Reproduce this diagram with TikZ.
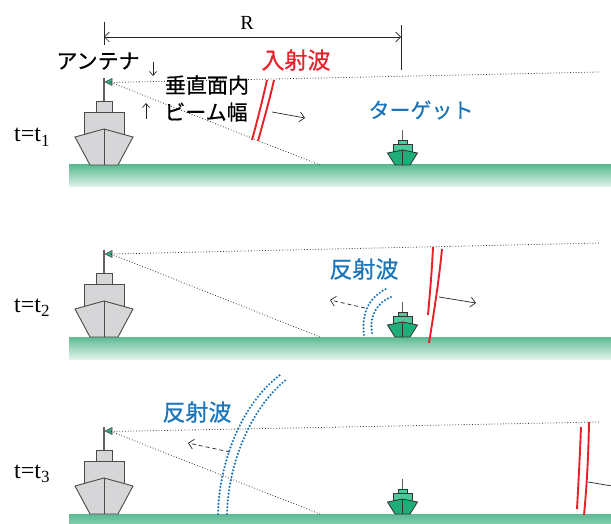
\documentclass[tikz,border=0pt]{standalone}
\usepackage{fontspec}
\setmainfont{Liberation Serif}
\newfontfamily\jpfont[FakeBold=0.6]{Noto Sans CJK JP}
\usetikzlibrary{arrows.meta}

\definecolor{wavered}{HTML}{E8202A}
\definecolor{echoblue}{HTML}{1B75BB}
\definecolor{seatop}{HTML}{5CBB93}
\definecolor{seabot}{HTML}{E2F3EB}
\definecolor{hullgray}{HTML}{D6D6D8}
\definecolor{edgegray}{HTML}{4A4A4A}
\definecolor{tgttop}{HTML}{4CC89A}
\definecolor{tgtbot}{HTML}{1FAE7A}
\definecolor{flaggreen}{HTML}{2EA77A}

\newcommand\tsub[1]{\raisebox{-4.5pt}{\fontsize{17}{17}\selectfont #1}}

\tikzset{
  shipline/.style={draw=edgegray, line width=0.9pt},
  bigship/.pic={
    \draw[gray!75!black, line width=1.3pt] (0,-53) -- (0,-87);
    \filldraw[fill=flaggreen, draw=black!70, line width=0.5pt]
      (1,-83) -- (8,-86.5) -- (8,-79.5) -- cycle;
    \filldraw[fill=hullgray, shipline] (-8,-64) rectangle (8,-53);
    \filldraw[fill=hullgray, shipline] (-20,-53) rectangle (20,-30);
    \filldraw[fill=hullgray, shipline]
      (-14,0) -- (-29,-28) -- (0,-36) -- (29,-28) -- (14,0) -- cycle;
    \draw[shipline] (0,-36) -- (0,0);
  },
  smallship/.pic={
    \draw[gray!75!black, line width=1.1pt] (0,-35) -- (0,-25);
    \filldraw[fill=tgttop, draw=black!80, line width=0.8pt] (-4.5,-25) rectangle (4.5,-21);
    \filldraw[fill=tgttop, draw=black!80, line width=0.8pt] (-9.5,-21) rectangle (9.5,-11);
    \filldraw[fill=tgtbot, draw=black!80, line width=0.8pt]
      (-7.5,0) -- (-15,-12) -- (0,-15) -- (15,-12) -- (7.5,0) -- cycle;
    \draw[black!80, line width=0.8pt] (0,-15) -- (0,0);
  },
  beam/.style={dotted, line width=0.8pt, black!80},
  wave/.style={wavered, line width=1.9pt},
  echo/.style={echoblue, line width=2.4pt, line cap=round, dash pattern=on 0pt off 3.4pt},
  prop/.style={-{Straight Barb[length=5pt,width=10pt]}, line width=0.7pt, black!85},
  back/.style={prop, dash pattern=on 4pt off 3pt},
  tick/.style={line width=0.7pt, black!85},
  jp/.style={font=\jpfont\fontsize{21}{24}\selectfont, inner sep=0pt},
  jpbig/.style={font=\jpfont\fontsize{23}{26}\selectfont, inner sep=0pt},
  tlabel/.style={font=\fontsize{24}{24}\selectfont, inner sep=0pt, anchor=base west},
}

\begin{document}
\begin{tikzpicture}[x=1pt, y=-1pt]
\useasboundingbox (0,0) rectangle (611,524);

% sea surfaces
\shade[top color=seatop, bottom color=seabot] (69,165) rectangle (611,187);
\shade[top color=seatop, bottom color=seabot] (69,337) rectangle (611,359);
\shade[top color=seatop, bottom color=seatop!70!seabot] (69,514) rectangle (611,524);

% ---------- t = t1 ----------
\pic at (104,165) {bigship};
\pic at (402.5,165) {smallship};
\coordinate (ant1) at (111,82.5);
\coordinate (far1) at (600,72);
\coordinate (gnd1) at (320,165);
\draw[beam] (ant1) -- (far1);
\draw[beam] (ant1) -- (gnd1);

% range R
\coordinate (rL) at (104,37);
\coordinate (rR) at (401,37);
\draw[tick] (104,22) -- (104,45);
\draw[tick] (401,25) -- (401,70);
\draw[prop, {Straight Barb[length=5pt,width=10pt]}-{Straight Barb[length=5pt,width=10pt]}] (rL) -- (rR);
\node[font=\fontsize{20}{20}\selectfont, inner sep=0pt] (Rlabel) at (247,23) {R};

% vertical beam width
\coordinate (bwA0) at (153,62);
\coordinate (bwA1) at (153,76);
\coordinate (bwB0) at (146,119);
\coordinate (bwB1) at (146,103);
\draw[prop, -{Straight Barb[length=4pt,width=7pt]}] (bwA0) -- (bwA1);
\draw[prop, -{Straight Barb[length=4pt,width=7pt]}] (bwB0) -- (bwB1);

\node[jp] (antlabel) at (98,61) {アンテナ};
\node[jp] (bw1) at (207,85) {垂直面内};
\node[jp] (bw2) at (206,112) {ビーム幅};
\node[jpbig, text=wavered] (inc) at (296,60) {入射波};
\node[jp, text=echoblue] (tgt) at (421,110) {ターゲット};
\node[tlabel] (t1) at (14,142) {t=t\tsub{1}};

% outgoing pulse
\draw[wave] (252,140) .. controls (257.5,120) and (262.5,100) .. (267,80);
\draw[wave] (258,141) .. controls (263.5,121) and (269.5,100) .. (274,80);
\coordinate (p1s) at (272,112);
\coordinate (p1e) at (305,118);
\draw[prop] (p1s) -- (p1e);

% ---------- t = t2 ----------
\pic at (104,337) {bigship};
\pic at (402.5,337) {smallship};
\coordinate (ant2) at (111,254);
\coordinate (far2) at (600,243);
\coordinate (gnd2) at (320,337);
\draw[beam] (ant2) -- (far2);
\draw[beam] (ant2) -- (gnd2);
\node[tlabel] (t2) at (14,312) {t=t\tsub{2}};

\draw[wave] (428,315) .. controls (430,292) and (432,270) .. (433,247);
\draw[wave] (429,343) .. controls (434,312) and (439,280) .. (442,249);
\coordinate (p2s) at (439,297);
\coordinate (p2e) at (476,303);
\draw[prop] (p2s) -- (p2e);

% echo leaving the target
\draw[echo] (364,335) .. controls (361,312) and (370,296) .. (388,288);
\draw[echo] (372,333) .. controls (369,315) and (378,302) .. (391,297);
\coordinate (e2s) at (365,308);
\coordinate (e2e) at (330,300);
\draw[back] (e2s) -- (e2e);
\node[jpbig, text=echoblue] (refl2) at (364,269) {反射波};

% ---------- t = t3 ----------
\pic at (104,514) {bigship};
\pic at (402.5,514) {smallship};
\coordinate (ant3) at (111,431.5);
\coordinate (far3) at (600,422);
\coordinate (gnd3) at (320,514);
\draw[beam] (ant3) -- (far3);
\draw[beam] (ant3) -- (gnd3);
\node[tlabel] (t3) at (14,478) {t=t\tsub{3}};

\draw[echo] (218,514) .. controls (219,465) and (240,405) .. (280,375);
\draw[echo] (227,514) .. controls (228,468) and (248,410) .. (287,379);
\coordinate (e3s) at (230,452);
\coordinate (e3e) at (188,443);
\draw[back] (e3s) -- (e3e);
\node[jpbig, text=echoblue] (refl3) at (197,412) {反射波};

\draw[wave] (577,509) .. controls (578.5,482) and (580,454) .. (581,427);
\draw[wave] (584,515) .. controls (587,484) and (588.5,453) .. (589,422);
\coordinate (p3s) at (588,482);
\coordinate (p3e) at (630,489);
\draw[line width=0.7pt, black!85] (p3s) -- (p3e);
\end{tikzpicture}
\end{document}
